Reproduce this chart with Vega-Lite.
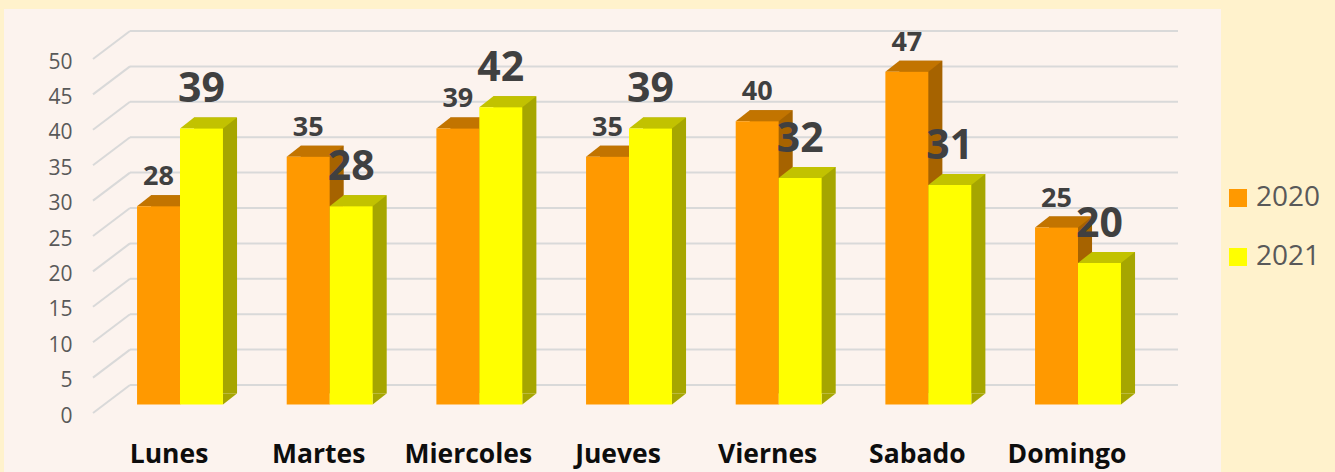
{"$schema":"https://vega.github.io/schema/vega-lite/v6.json","width":1217,"height":463,"autosize":"none","padding":{"left":4,"top":9,"right":114,"bottom":0},"background":"#FFF2CC","view":{"fill":"#FCF3EE","stroke":null},
"datasets":{"bars":[
{"dia":"Lunes","anio":"2020","valor":28},{"dia":"Lunes","anio":"2021","valor":39},
{"dia":"Martes","anio":"2020","valor":35},{"dia":"Martes","anio":"2021","valor":28},
{"dia":"Miercoles","anio":"2020","valor":39},{"dia":"Miercoles","anio":"2021","valor":42},
{"dia":"Jueves","anio":"2020","valor":35},{"dia":"Jueves","anio":"2021","valor":39},
{"dia":"Viernes","anio":"2020","valor":40},{"dia":"Viernes","anio":"2021","valor":32},
{"dia":"Sabado","anio":"2020","valor":47},{"dia":"Sabado","anio":"2021","valor":31},
{"dia":"Domingo","anio":"2020","valor":25},{"dia":"Domingo","anio":"2021","valor":20}],
"grid":[{"nivel":0},{"nivel":5},{"nivel":10},{"nivel":15},{"nivel":20},{"nivel":25},{"nivel":30},{"nivel":35},{"nivel":40},{"nivel":45},{"nivel":50}]},
"data":{"name":"bars"},
"resolve":{"scale":{"xOffset":"independent"}},
"layer":[
{"data":{"name":"grid"},"mark":{"type":"rule","color":"#D9D9D9","strokeWidth":2,"xOffset":-50,"x2Offset":100,"yOffset":-19.5},
 "encoding":{"x":{"datum":"Lunes","type":"nominal","scale":{"type":"band","domain":["Lunes","Martes","Miercoles","Jueves","Viernes","Sabado","Domingo"],"range":[101.17,1148.83],"paddingInner":0.426,"paddingOuter":0.213},"axis":{"title":null,"orient":"bottom","offset":-18,"labelPadding":0,"labelOffset":-11,"labelBaseline":"middle","labelAngle":0,"ticks":false,"domain":false,"labelFont":"Open Sans","labelFontWeight":"bold","labelFontSize":26.5,"labelColor":"#0D0D0D"}},"x2":{"datum":"Domingo"},
 "y":{"field":"nivel","type":"quantitative","scale":{"domain":[0,50],"range":[395.5,41.5],"nice":false},"axis":{"title":null,"values":[0,5,10,15,20,25,30,35,40,45,50],"grid":false,"ticks":false,"domain":false,"offset":-68,"labelPadding":0,"labelOffset":11.5,"labelFont":"Open Sans","labelFontSize":21,"labelColor":"#595959"}}}},
{"data":{"name":"grid"},"mark":{"type":"point","shape":"M-18.5 14L18.5 -14","size":4,"filled":false,"color":"#D9D9D9","strokeWidth":2,"xOffset":-68.5,"yOffset":-5.5,"opacity":1},
 "encoding":{"x":{"datum":"Lunes","type":"nominal"},"y":{"field":"nivel","type":"quantitative"}}},
{"mark":{"type":"bar","yOffset":-11,"y2Offset":-11},
 "encoding":{"x":{"field":"dia","type":"nominal"},"xOffset":{"field":"anio","type":"nominal","scale":{"domain":["2020","2021"],"range":[14,100]}},"y":{"field":"valor","type":"quantitative"},"y2":{"datum":0},
 "fill":{"condition":{"test":"datum.anio=='2020'","value":"#A66300"},"value":"#A6A600"}}},
{"mark":{"type":"point","shape":"M21.5 0L21.5 -11L35.5 -11Z","size":4,"filled":true,"opacity":1},
 "encoding":{"x":{"field":"dia","type":"nominal"},"xOffset":{"field":"anio","type":"nominal","scale":{"domain":["2020","2021"]}},"y":{"datum":0,"type":"quantitative"},
 "fill":{"condition":{"test":"datum.anio=='2020'","value":"#A66300"},"value":"#A6A600"}}},
{"mark":{"type":"point","shape":"M-21.5 0L21.5 0L35.5 -11L-7.5 -11Z","size":4,"filled":true,"opacity":1},
 "encoding":{"x":{"field":"dia","type":"nominal"},"xOffset":{"field":"anio","type":"nominal","scale":{"domain":["2020","2021"]}},"y":{"field":"valor","type":"quantitative"},
 "fill":{"condition":{"test":"datum.anio=='2020'","value":"#C27400"},"value":"#C2C200"}}},
{"mark":{"type":"bar"},
 "encoding":{"x":{"field":"dia","type":"nominal"},"xOffset":{"field":"anio","type":"nominal","scale":{"domain":["2020","2021"]}},"y":{"field":"valor","type":"quantitative"},"y2":{"datum":0},
 "color":{"field":"anio","type":"nominal","scale":{"domain":["2020","2021"],"range":["#FF9900","#FFFF00"]},"legend":{"title":null,"orient":"none","legendX":1220,"legendY":175,"symbolType":"square","symbolSize":324,"symbolOpacity":1,"symbolStrokeWidth":0,"labelFont":"Open Sans","labelFontSize":28,"labelColor":"#595959","labelOffset":4,"rowPadding":31,"padding":0}}}},
{"transform":[{"filter":"datum.anio=='2020'"}],"mark":{"type":"text","font":"Open Sans","fontWeight":"bold","fontSize":27,"color":"#404040","baseline":"middle","dy":-29},
 "encoding":{"x":{"field":"dia","type":"nominal"},"xOffset":{"field":"anio","type":"nominal","scale":{"domain":["2020","2021"]}},"y":{"field":"valor","type":"quantitative"},"text":{"field":"valor","type":"quantitative"}}},
{"transform":[{"filter":"datum.anio=='2021'"}],"mark":{"type":"text","font":"Open Sans","fontWeight":"bold","fontSize":41,"color":"#404040","baseline":"middle","dy":-38},
 "encoding":{"x":{"field":"dia","type":"nominal"},"xOffset":{"field":"anio","type":"nominal","scale":{"domain":["2020","2021"]}},"y":{"field":"valor","type":"quantitative"},"text":{"field":"valor","type":"quantitative"}}}
]}
